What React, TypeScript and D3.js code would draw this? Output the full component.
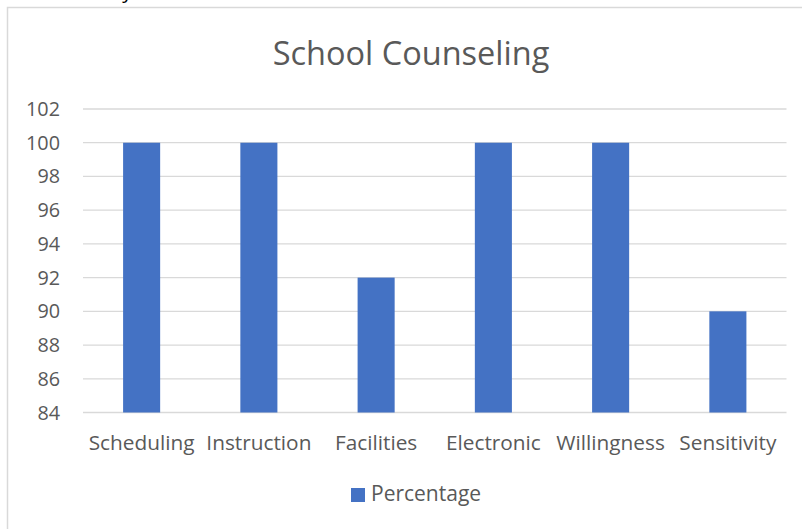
import React from "react";
import * as d3 from "d3";

const categories = ["Scheduling", "Instruction", "Facilities", "Electronic", "Willingness", "Sensitivity"];
const percentage = [100, 100, 92, 100, 100, 90];
const yTicks = [84, 86, 88, 90, 92, 94, 96, 98, 100, 102];
const title = "School Counseling";
const seriesName = "Percentage";
const clippedHeading = "School Safety – Problem";

const W = 802;
const H = 529;
const FONT = "'Open Sans', 'Noto Sans', sans-serif";

export default function App() {
  const x = d3.scaleBand<string>().domain(categories).range([83, 786.5]).paddingInner(0.684).paddingOuter(0.342);
  const y = d3.scaleLinear().domain([84, 102]).range([412.5, 109]);
  const text = "#595959";
  return (
    <svg width={W} height={H} style={{ position: "fixed", left: 0, top: 0, background: "#fff" }} fontFamily={FONT}>
      <rect x={0} y={0} width={W} height={H} fill="#fff" />
      <text x={8} y={-2} fontSize={20} fill="#000">{clippedHeading}</text>
      <rect x={7.5} y={7.5} width={W + 10} height={H + 10} fill="#fff" stroke="#d9d9d9" strokeWidth={1.5} />
      <text x={411} y={65} textAnchor="middle" fontSize={32.5} fill={text}>{title}</text>
      {yTicks.map((t) => (
        <g key={t}>
          <line x1={83} x2={786.5} y1={y(t)} y2={y(t)} stroke="#d9d9d9" strokeWidth={1.3} />
          <text x={60} y={y(t) + 7} textAnchor="end" fontSize={19.8} fill={text}>{t}</text>
        </g>
      ))}
      {categories.map((c, i) => (
        <rect key={c} x={x(c)!} width={x.bandwidth()} y={y(percentage[i])} height={y(84) - y(percentage[i])} fill="#4472C4" />
      ))}
      {categories.map((c) => (
        <text key={c} x={x(c)! + x.bandwidth() / 2} y={450} textAnchor="middle" fontSize={20.8} fill={text}>{c}</text>
      ))}
      <rect x={351} y={488} width={14} height={14} fill="#4472C4" />
      <text x={371} y={501} fontSize={21} fill={text}>{seriesName}</text>
    </svg>
  );
}
